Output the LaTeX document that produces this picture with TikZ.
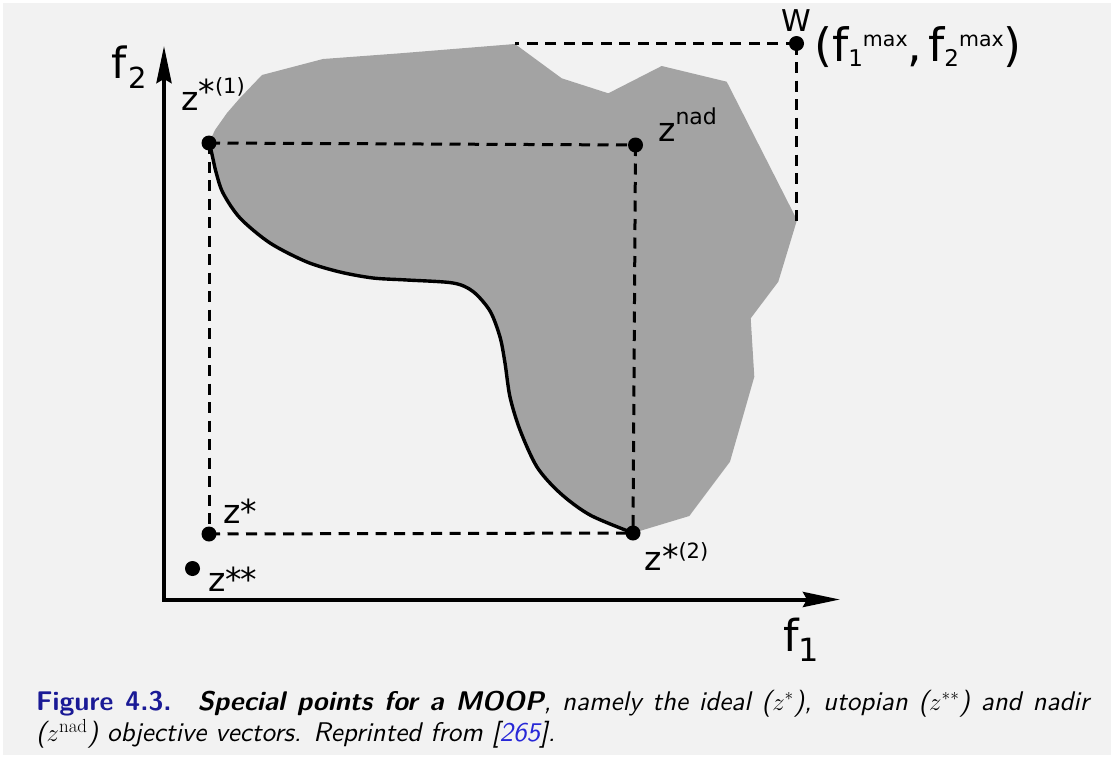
\documentclass[tikz,border=0pt]{standalone}
\usepackage{fontspec}
\newfontfamily\dv{DejaVu Sans}
\newfontfamily\capfont{lmsans10-regular.otf}[BoldFont=lmsans10-bold.otf,ItalicFont=lmsans10-oblique.otf,BoldItalicFont=lmsans10-boldoblique.otf]
\usetikzlibrary{arrows.meta}
\definecolor{bgc}{RGB}{242,242,242}
\definecolor{regc}{RGB}{163,163,163}
\definecolor{capblue}{RGB}{26,26,150}
\definecolor{linkblue}{RGB}{40,40,215}
\newcommand\fs[1]{\fontsize{#1}{#1}\selectfont}
\begin{document}
\begin{tikzpicture}[x=1pt,y=-1pt,
  dot/.style={circle,fill=black,inner sep=0pt,minimum size=15pt},
  guide/.style={line width=3pt,dash pattern=on 11pt off 7.5pt},
  front/.style={line width=3.4pt,line join=round,line cap=round},
  axis/.style={line width=4pt,line join=miter,{Stealth[length=37pt,width=15pt,inset=4pt]}-{Stealth[length=37pt,width=15pt,inset=4pt]}},
  lbl/.style={inner sep=0pt,anchor=base west,font=\dv},
  captext/.style={inner sep=0pt,anchor=base west,font={\capfont\fontsize{27}{31.7}\selectfont}}
]
\useasboundingbox (0,0) rectangle (1114,758);
\fill[white] (0,0) rectangle (1114,758);
\fill[bgc] (3,3) rectangle (1111,755);

% key points
\coordinate (c1) at (209,143);
\coordinate (cn) at (635.5,145);
\coordinate (cw) at (796.5,43.5);
\coordinate (cs) at (209,534);
\coordinate (css) at (192.5,568.5);
\coordinate (c2) at (633,533);
\coordinate (wl) at (515,43.5);
\coordinate (wd) at (796.5,223);
\coordinate (ytip) at (164,46);
\coordinate (xtip) at (840,599.5);

% feasible region
\fill[regc] plot[smooth] coordinates {(c1) (211.7,153) (216,172) (223,193) (240,218) (270,243) (307,262) (340,272) (373,278) (407,280) (453,283) (473,291.5) (490,311) (500,337) (505,363) (510,397) (520,430) (537,467) (560,493) (590,515) (c2)}
  -- (689.3,516) -- (730,461.7) -- (754.3,376.7) -- (750.7,318.3) -- (778.3,281.7) -- (797,220)
  -- (726.7,81.7) -- (661.7,66) -- (608.3,93.3) -- (561.7,78.3) -- (515,44) -- (400,53.3)
  -- (323,59) -- (262,75) -- (240,98) -- (227,113) -- (215,130) -- cycle;

% points
\node[dot] (z1) at (c1) {};
\node[dot] (nad) at (cn) {};
\node[dot] (w) at (cw) {};
\node[dot] (zs) at (cs) {};
\node[dot] (zss) at (css) {};
\node[dot] (z2) at (c2) {};

% guides
\draw[guide] (z1.center) -- (nad.center);
\draw[guide] (z1.center) -- (zs.center);
\draw[guide] (zs.center) -- (z2.center);
\draw[guide] (nad.center) -- (z2.center);
\draw[guide] (w.center) -- (wl);
\draw[guide] (w.center) -- (wd);

% Pareto front
\draw[front] plot[smooth] coordinates {(c1) (211.7,153) (216,172) (223,193) (240,218) (270,243) (307,262) (340,272) (373,278) (407,280) (453,283) (473,291.5) (490,311) (500,337) (505,363) (510,397) (520,430) (537,467) (560,493) (590,515) (c2)};

% axes
\draw[axis] (ytip) |- (xtip);

% labels
\node[lbl] (lf2) at (111,78) {\fs{43}f\kern2pt\raisebox{-10pt}{\fs{29}2}};
\node[lbl] (lf1) at (783,651.7) {\fs{44}f\raisebox{-10pt}{\fs{32}1}};
\node[lbl] (lz1) at (181,110) {\fs{33}z\raisebox{7pt}{*}\raisebox{17pt}{\fs{21}(1)}};
\node[lbl] (lnad) at (658,141.7) {\fs{33}z\raisebox{17pt}{\fs{22}nad}};
\node[lbl] (lzs) at (223,523.3) {\fs{33}z*};
\node[lbl] (lzss) at (208,591.7) {\fs{33}z*\kern-1.5pt*};
\node[lbl] (lz2) at (644.5,570) {\fs{33}z\raisebox{1.5pt}{*}\raisebox{12pt}{\fs{21}(2)}};
\node[lbl,anchor=base] (lw) at (796.5,31.7) {\fs{30}W};
\node[lbl] (lmax) at (814,61.7) {\fs{46}(f\raisebox{-5pt}{\fs{23}1}\raisebox{15pt}{\fs{20.5}max},\hspace{6pt}f\raisebox{-5pt}{\fs{23}2}\raisebox{15pt}{\fs{20.5}max})};

% caption
\node[captext] (cap1) at (36,710)
{\makebox[1053pt][s]{{\color{capblue}\bfseries Figure 4.3.}\hspace{0.3em} {\bfseries\itshape Special points for a MOOP}\itshape, namely the ideal ($z^*$), utopian ($z^{**}$) and nadir}};
\node[captext] (cap2) at (36,741.7)
{\itshape ($z^{\mathrm{nad}}$) objective vectors. Reprinted from [{\color{linkblue}265}].};
\end{tikzpicture}
\end{document}
